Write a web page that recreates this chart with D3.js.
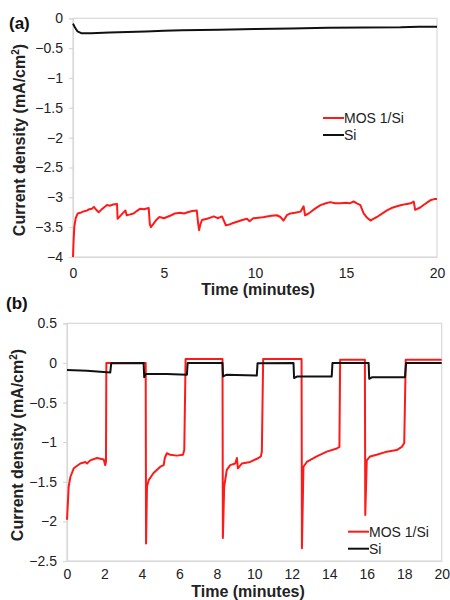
<!DOCTYPE html>
<html>
<head>
<meta charset="utf-8">
<script src="https://cdn.jsdelivr.net/npm/d3@7"></script>
<style>
  body { margin: 0; background: #fff; }
  text { font-family: "Liberation Sans", Arial, sans-serif; }
</style>
</head>
<body>
<script>
// Panel (a): constant illumination
const aMosTime = [0,0.03,0.07,0.15,0.26,0.4,0.55,0.77,0.9,1.04,1.15,1.25,1.41,1.55,1.7,1.87,2.05,2.2,2.42,2.45,2.6,2.75,2.88,2.95,3.1,3.33,3.5,3.7,3.9,4.16,4.22,4.28,4.43,4.6,4.75,5.0,5.16,5.4,5.6,5.9,6.1,6.3,6.55,6.8,6.88,6.93,7.0,7.09,7.36,7.55,7.73,7.95,8.19,8.3,8.4,8.64,8.8,9.01,9.3,9.56,9.7,9.9,10.3,10.5,10.66,10.9,11.2,11.4,11.57,11.75,11.94,12.2,12.5,12.67,12.75,12.9,13.04,13.3,13.6,13.9,14.14,14.4,14.69,15.0,15.2,15.42,15.6,15.79,15.97,16.15,16.34,16.5,16.7,17.0,17.25,17.5,17.8,18.05,18.35,18.55,18.72,18.8,19.08,19.3,19.63,19.85,20];
const aMos = [-4.0,-3.75,-3.5,-3.35,-3.27,-3.26,-3.24,-3.22,-3.2,-3.19,-3.16,-3.2,-3.25,-3.21,-3.17,-3.13,-3.14,-3.12,-3.11,-3.36,-3.31,-3.26,-3.22,-3.3,-3.29,-3.27,-3.23,-3.19,-3.2,-3.18,-3.45,-3.5,-3.44,-3.37,-3.33,-3.35,-3.33,-3.3,-3.27,-3.26,-3.27,-3.25,-3.23,-3.22,-3.45,-3.55,-3.45,-3.38,-3.36,-3.34,-3.32,-3.35,-3.32,-3.4,-3.47,-3.45,-3.43,-3.41,-3.38,-3.36,-3.4,-3.35,-3.34,-3.33,-3.32,-3.31,-3.3,-3.33,-3.39,-3.3,-3.27,-3.26,-3.24,-3.15,-3.3,-3.28,-3.25,-3.19,-3.13,-3.1,-3.08,-3.1,-3.1,-3.09,-3.1,-3.07,-3.1,-3.13,-3.27,-3.34,-3.39,-3.36,-3.33,-3.27,-3.22,-3.18,-3.15,-3.13,-3.11,-3.1,-3.07,-3.21,-3.17,-3.12,-3.05,-3.03,-3.03];
const aSiTime = [0,0.1,0.25,0.45,1,2,3,4,5,6,8,10,12,14,16,18,19,20];
const aSi = [-0.09,-0.15,-0.22,-0.25,-0.25,-0.24,-0.23,-0.22,-0.21,-0.2,-0.19,-0.18,-0.17,-0.16,-0.155,-0.15,-0.14,-0.14];

// Panel (b): chopped illumination
const bMosTime = [0,0.09,0.18,0.36,0.71,0.98,1.07,1.24,1.6,1.96,2.04,2.08,2.1,4.2,4.22,4.27,4.36,4.62,4.98,5.16,5.22,5.33,5.51,5.87,6.19,6.26,6.33,8.3,8.32,8.39,8.53,8.71,8.98,9.07,9.12,9.33,9.78,10.22,10.35,10.4,10.47,12.52,12.54,12.62,12.8,13.33,13.87,14.4,14.54,14.58,15.9,15.92,16.0,16.18,16.53,17.07,17.6,17.87,18.0,18.08,20];
const bMos = [-1.98,-1.56,-1.44,-1.33,-1.27,-1.25,-1.27,-1.23,-1.2,-1.22,-1.29,-1.25,0,0,-2.28,-1.56,-1.48,-1.39,-1.31,-1.29,-1.2,-1.14,-1.16,-1.17,-1.16,-1.1,0.05,0.05,-2.21,-1.56,-1.35,-1.29,-1.27,-1.2,-1.33,-1.27,-1.25,-1.2,-1.18,-1.12,0.05,0.05,-2.34,-1.31,-1.25,-1.18,-1.12,-1.08,-1.06,0.04,0.04,-1.92,-1.23,-1.18,-1.16,-1.12,-1.1,-1.06,-1.01,0.04,0.04];
const bSiTime = [0,1.07,2.31,2.36,4.09,4.12,4.2,5.33,6.4,6.44,8.3,8.33,8.5,10.13,10.17,12.09,12.12,12.3,14.13,14.17,16.1,16.13,16.3,18.04,18.1,20];
const bSi = [-0.09,-0.1,-0.12,-0.005,0,-0.18,-0.14,-0.14,-0.15,0,0,-0.17,-0.15,-0.16,-0.005,0,-0.19,-0.17,-0.17,0,0,-0.2,-0.18,-0.18,0,0];

const aYTicks = [0,-0.5,-1,-1.5,-2,-2.5,-3,-3.5,-4];
const aXTicks = [0,5,10,15,20];
const bYTicks = [0.5,0,-0.5,-1,-1.5,-2,-2.5];
const bXTicks = [0,2,4,6,8,10,12,14,16,18,20];
const seriesNames = ["MOS 1/Si", "Si"];
const seriesColors = ["#ff1a1a", "#111111"];

const svg = d3.select("body").append("svg")
    .attr("width", 450)
    .attr("height", 600);

function zip(t, v) {
    return t.map(function(d, i) { return [d, v[i]]; });
}

// draws one panel
function panel(opt) {
    const x = d3.scaleLinear().domain([0, 20]).range([opt.left, opt.right]);
    const y = d3.scaleLinear().domain(opt.yDomain).range([opt.bottom, opt.top]);

    // plot box
    svg.append("rect")
        .attr("x", opt.left).attr("y", opt.top)
        .attr("width", opt.right - opt.left)
        .attr("height", opt.bottom - opt.top)
        .attr("fill", "none")
        .attr("stroke", "#d9d9d9")
        .attr("stroke-width", 1.2);

    const yAxis = svg.append("g")
        .attr("transform", "translate(" + opt.left + ",0)")
        .call(d3.axisLeft(y).tickValues(opt.yTicks).tickSize(4).tickPadding(6)
            .tickFormat(d3.format("")));
    const xAxis = svg.append("g")
        .attr("transform", "translate(0," + opt.bottom + ")")
        .call(d3.axisBottom(x).tickValues(opt.xTicks).tickSize(0).tickPadding(opt.xPad)
            .tickFormat(d3.format("")));

    [xAxis, yAxis].forEach(function(ax) {
        ax.select(".domain").attr("stroke", "#d9d9d9").attr("stroke-width", 1.2);
        ax.selectAll(".tick line").attr("stroke", "#d9d9d9").attr("stroke-width", 1.2);
        ax.selectAll(".tick text")
            .attr("fill", "#222")
            .style("font-size", "14px")
            .style("font-family", "'Liberation Sans', Arial, sans-serif");
    });

    const line = d3.line()
        .x(function(d) { return x(d[0]); })
        .y(function(d) { return y(d[1]); });

    opt.series.forEach(function(s, i) {
        svg.append("path")
            .datum(s)
            .attr("d", line)
            .attr("fill", "none")
            .attr("stroke", seriesColors[i])
            .attr("stroke-width", 2)
            .attr("stroke-linejoin", "round");
    });

    // axis titles
    svg.append("text")
        .attr("x", opt.xTitleX).attr("y", opt.xTitleY)
        .attr("text-anchor", "middle")
        .style("font-size", "16px").style("font-weight", "bold")
        .attr("fill", "#222")
        .text("Time (minutes)");

    const yt = svg.append("text")
        .attr("transform", "translate(" + opt.yTitleX + "," + opt.yTitleY + ") rotate(-90)")
        .attr("text-anchor", "middle")
        .style("font-size", "16px").style("font-weight", "bold")
        .attr("fill", "#222");
    yt.append("tspan").text("Current density (mA/cm");
    yt.append("tspan").text("2").attr("dy", -6).style("font-size", "10px");
    yt.append("tspan").text(")").attr("dy", 6);

    svg.append("text")
        .attr("x", opt.labelX).attr("y", opt.labelY)
        .style("font-size", "17px").style("font-weight", "bold")
        .attr("fill", "#111")
        .text(opt.label);

    // legend
    seriesNames.forEach(function(name, i) {
        const ly = opt.legendY + i * 17;
        svg.append("line")
            .attr("x1", opt.legendX).attr("x2", opt.legendX + 21)
            .attr("y1", ly).attr("y2", ly)
            .attr("stroke", seriesColors[i]).attr("stroke-width", 2);
        svg.append("text")
            .attr("x", opt.legendX + 21).attr("y", ly + 5)
            .style("font-size", "14px")
            .attr("fill", "#222")
            .text(name);
    });
}

panel({
    left: 73, right: 437, top: 18.3, bottom: 257,
    yDomain: [-4, 0], yTicks: aYTicks, xTicks: aXTicks, xPad: 11,
    series: [zip(aMosTime, aMos), zip(aSiTime, aSi)],
    xTitleX: 258, xTitleY: 295,
    yTitleX: 25, yTitleY: 140,
    label: "(a)", labelX: 9, labelY: 29,
    legendX: 323, legendY: 118
});

panel({
    left: 67, right: 441.7, top: 323.3, bottom: 561,
    yDomain: [-2.5, 0.5], yTicks: bYTicks, xTicks: bXTicks, xPad: 8,
    series: [zip(bMosTime, bMos), zip(bSiTime, bSi)],
    xTitleX: 248, xTitleY: 597,
    yTitleX: 23, yTitleY: 445,
    label: "(b)", labelX: 6, labelY: 309,
    legendX: 348, legendY: 531.7
});
</script>
</body>
</html>
